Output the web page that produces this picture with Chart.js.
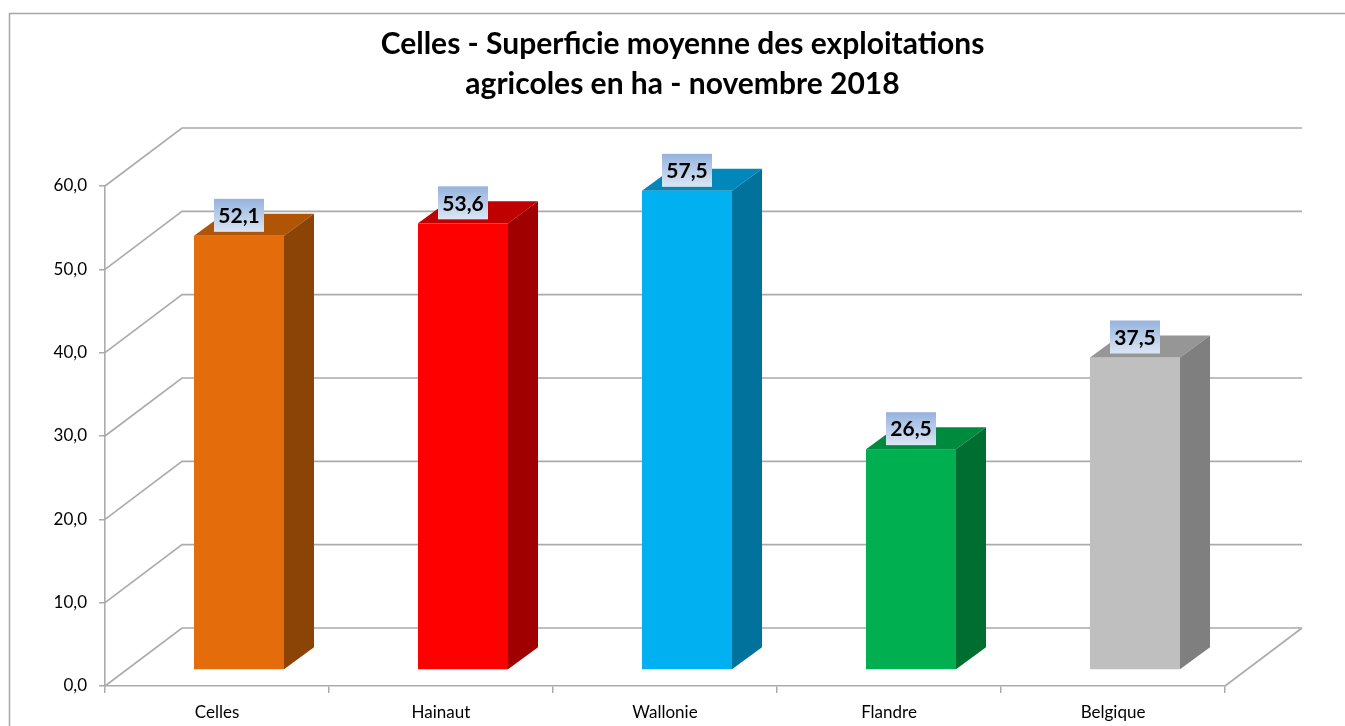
<!DOCTYPE html>
<html>
<head>
<meta charset="utf-8">
<title>Celles - Superficie moyenne des exploitations agricoles</title>
<script src="https://cdn.jsdelivr.net/npm/chart.js@4.4.1/dist/chart.umd.min.js"></script>
<style>
  html, body { margin: 0; padding: 0; background: #fff; }
  #wrap { width: 1345px; height: 726px; }
</style>
</head>
<body>
<div id="wrap"><canvas id="myChart" width="1345" height="726"></canvas></div>
<script>
// données (ha)
const regions = ['Celles', 'Hainaut', 'Wallonie', 'Flandre', 'Belgique'];
const surfaces = [52.1, 53.6, 57.5, 26.5, 37.5];
const yTicks = [0, 10, 20, 30, 40, 50, 60];
const titleLines = ['Celles - Superficie moyenne des exploitations', 'agricoles en ha - novembre 2018'];

// couleurs face avant / dessus / côté
const frontColors = ['#E46C0A', '#FF0000', '#00B0F0', '#00B050', '#BFBFBF'];
const topColors = ['#B05405', '#C00000', '#0088BA', '#008A3E', '#969696'];
const sideColors = ['#8C4306', '#A00000', '#00729C', '#006E31', '#7F7F7F'];

const gridColor = '#ABABAB';
const fontFamily = 'Lato, "Open Sans", sans-serif';

// effet 3D (en pixels)
const WALL_DX = 77, WALL_DY = -58;   // profondeur du mur arrière
const BAR_DX = 22, BAR_DY = -16;     // décalage de la face avant des barres
const BAR_W = 90;
const DEPTH_X = 30, DEPTH_Y = -22;   // épaisseur des barres

const fmt = v => v.toFixed(1).replace('.', ',');

const frame = {
    id: 'frame',
    beforeDraw(chart) {
        const ctx = chart.ctx;
        ctx.save();
        ctx.fillStyle = '#fff';
        ctx.fillRect(0, 0, chart.width, chart.height);
        ctx.strokeStyle = '#A6A6A6';
        ctx.lineWidth = 1.5;
        ctx.strokeRect(9.5, 13.5, chart.width + 50, chart.height + 50);
        ctx.restore();
    }
};

const walls = {
    id: 'walls',
    beforeDatasetsDraw(chart) {
        const { ctx, chartArea: a, scales: { y } } = chart;
        ctx.save();
        ctx.strokeStyle = gridColor;
        ctx.lineWidth = 1.6;
        yTicks.forEach(v => {
            const py = y.getPixelForValue(v);
            ctx.beginPath();
            ctx.moveTo(a.left, py);
            ctx.lineTo(a.left + WALL_DX, py + WALL_DY);
            ctx.lineTo(a.right + WALL_DX, py + WALL_DY);
            ctx.stroke();
        });
        // bord droit du sol
        ctx.beginPath();
        ctx.moveTo(a.right, a.bottom);
        ctx.lineTo(a.right + WALL_DX, a.bottom + WALL_DY);
        ctx.stroke();
        ctx.restore();
    }
};

const bars3d = {
    id: 'bars3d',
    afterDatasetsDraw(chart) {
        const ctx = chart.ctx;
        const meta = chart.getDatasetMeta(0);
        ctx.save();
        meta.data.forEach((el, i) => {
            const xc = el.x + BAR_DX;
            const top = el.y + BAR_DY;
            const bot = el.base + BAR_DY;
            const l = xc - BAR_W / 2, r = xc + BAR_W / 2;

            // face avant
            ctx.fillStyle = frontColors[i];
            ctx.fillRect(l, top, BAR_W, bot - top);

            // dessus
            ctx.fillStyle = topColors[i];
            ctx.beginPath();
            ctx.moveTo(l, top);
            ctx.lineTo(l + DEPTH_X, top + DEPTH_Y);
            ctx.lineTo(r + DEPTH_X, top + DEPTH_Y);
            ctx.lineTo(r, top);
            ctx.closePath();
            ctx.fill();

            // côté
            ctx.fillStyle = sideColors[i];
            ctx.beginPath();
            ctx.moveTo(r, top);
            ctx.lineTo(r + DEPTH_X, top + DEPTH_Y);
            ctx.lineTo(r + DEPTH_X, bot + DEPTH_Y);
            ctx.lineTo(r, bot);
            ctx.closePath();
            ctx.fill();

            // étiquette de valeur
            const bw = 50, bh = 33;
            const by = top - 37;
            const grad = ctx.createLinearGradient(0, by, 0, by + bh);
            grad.addColorStop(0, '#95B3DE');
            grad.addColorStop(1, '#DCE6F4');
            ctx.fillStyle = grad;
            ctx.fillRect(xc - bw / 2, by, bw, bh);
            ctx.fillStyle = '#000';
            ctx.font = 'bold 21px ' + fontFamily;
            ctx.textAlign = 'center';
            ctx.textBaseline = 'middle';
            ctx.fillText(fmt(surfaces[i]), xc, by + bh / 2 + 1);
        });
        ctx.restore();
    }
};

const ctx = document.getElementById('myChart').getContext('2d');

new Chart(ctx, {
    type: 'bar',
    data: {
        labels: regions,
        datasets: [{
            label: 'Superficie moyenne (ha)',
            data: surfaces,
            backgroundColor: 'rgba(0,0,0,0)',
            borderWidth: 0
        }]
    },
    options: {
        responsive: false,
        animation: false,
        events: [],
        layout: { padding: { left: 20, right: 0, top: 0, bottom: 0 } },
        scales: {
            x: {
                grid: { display: true, drawOnChartArea: false, tickLength: 7, color: gridColor, lineWidth: 1.5 },
                border: { display: true, color: gridColor, width: 1.6 },
                ticks: { color: '#000', padding: 9, font: { family: fontFamily, size: 17 } },
                afterFit(scale) { scale.height = 40; }
            },
            y: {
                min: 0,
                max: 60,
                ticks: {
                    stepSize: 10,
                    color: '#000',
                    padding: 12,
                    font: { family: fontFamily, size: 17 },
                    callback: v => fmt(v)
                },
                grid: { display: true, drawOnChartArea: false, tickLength: 6, color: gridColor, lineWidth: 1.5 },
                border: { display: true, color: gridColor, width: 1.6 },
                afterFit(scale) { scale.width = 85; }
            },
            // axe vide à droite pour laisser la place à la profondeur
            y2: {
                position: 'right',
                grid: { display: false },
                border: { display: false },
                ticks: { display: false },
                afterFit(scale) { scale.width = 120; }
            }
        },
        plugins: {
            legend: { display: false },
            tooltip: { enabled: false },
            title: {
                display: true,
                text: titleLines,
                color: '#000',
                font: { family: fontFamily, size: 30, weight: 'bold', lineHeight: 40 / 30 },
                padding: { top: 24, bottom: 82 }
            }
        }
    },
    plugins: [frame, walls, bars3d]
});
</script>
</body>
</html>
